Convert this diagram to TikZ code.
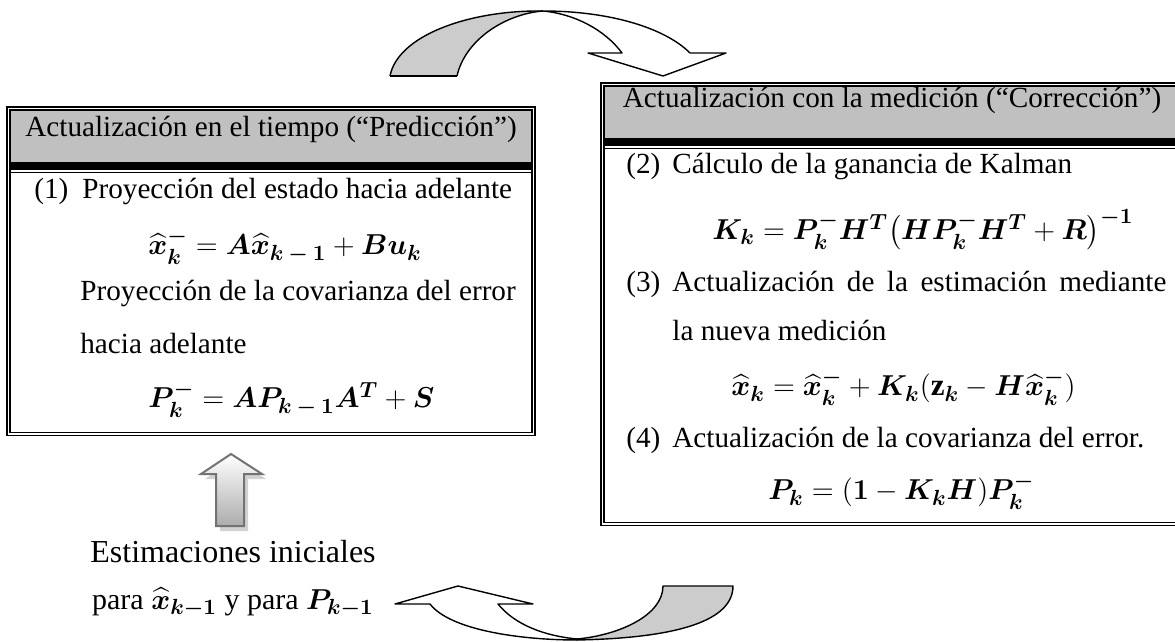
\documentclass[tikz,border=0pt]{standalone}
\usepackage{fontspec}
\setmainfont{Liberation Serif}
\usepackage{amsmath}
\usepackage{bm}
\usetikzlibrary{positioning}

\definecolor{headgray}{HTML}{C0C0C0}
\definecolor{backgray}{HTML}{CCCCCC}

% subscript k-1 with the wide spacing of the original
\newcommand{\kmo}{\bm{k}\mskip4mu\bm{-}\mskip4mu\bm{1}}

\tikzset{
  boxframe/.style={draw, line width=0.6pt, double, double distance=0.9pt},
  headtxt/.style={inner sep=0pt, execute at begin node=\strut},
  txtline/.style={anchor=west, inner sep=0pt, execute at begin node=\strut},
  eqline/.style={txtline, font=\fontsize{15.5}{18}\selectfont},
  ribbon/.style={draw, line width=0.7pt, line join=round},
}

\begin{document}
\begin{tikzpicture}[x=0.5pt, y=-0.5pt, font=\fontsize{14.6}{17}\selectfont]
  \useasboundingbox (0,0) rectangle (1175,642);
  \clip (0,0) rectangle (1175,642);

  % Time update box (left)
  \fill[headgray] (8.5,108.5) rectangle (533.5,162);
  \fill (8.5,162) rectangle (533.5,170);
  \draw[line width=0.75pt] (8.5,172.5) -- (533.5,172.5);
  \draw[boxframe] (8.5,108.5) rectangle (533.5,434);

  \node[headtxt] (predtitle) at (271,130) {Actualización en el tiempo (“Predicción”)};
  \node[txtline] (step1) at (34,192) {\makebox[24pt][l]{(1)}Proyección del estado hacia adelante};
  \node[eqline] (eqx) at (148,247) {$\bm{\widehat{x}_k^-} = \bm{A\widehat{x}}_{\kmo} + \bm{Bu_k}$};
  \node[txtline] (cov1) at (80,294) {Proyección de la covarianza del error};
  \node[txtline] (cov2) at (80,347) {hacia adelante};
  \node[eqline] (eqp) at (148,400) {$\bm{P_k^-} = \bm{AP}_{\kmo}\bm{A^T} + \bm{S}$};

  % Measurement update box (right)
  \fill[headgray] (602.5,84.5) rectangle (1190,138);
  \fill (602.5,138) rectangle (1190,146);
  \draw[line width=0.75pt] (602.5,148.5) -- (1190,148.5);
  \draw[boxframe] (602.5,84.5) rectangle (1190,524);

  \node[headtxt] (corrtitle) at (892,101) {Actualización con la medición (“Corrección”)};
  \node[txtline] (step2) at (626,167) {\makebox[23pt][l]{(2)}Cálculo de la ganancia de Kalman};
  \node[eqline] (eqk) at (712,230) {$\bm{K_k} = \bm{P_k^-H^T}\bigl(\bm{HP_k^-H^T} + \bm{R}\bigr)^{\bm{-1}}$};
  \node[txtline] (step3) at (626,285) {\makebox[23pt][l]{(3)}\makebox[247pt][s]{Actualización de la estimación mediante}};
  \node[txtline] (step3b) at (672,334) {la nueva medición};
  \node[eqline] (eqxk) at (731,388) {$\bm{\widehat{x}_k} = \bm{\widehat{x}_k^-} + \bm{K_k}(\mathbf{z}_{\bm{k}} - \bm{H\widehat{x}_k^-})$};
  \node[txtline] (step4) at (626,441) {\makebox[23pt][l]{(4)}Actualización de la covarianza del error.};
  \node[eqline] (eqpk) at (768,492) {$\bm{P_k} = (\bm{1} - \bm{K_kH})\bm{P_k^-}$};

  % Initial estimates
  \node[headtxt, font=\fontsize{16}{19}\selectfont] (init1) at (233,555) {Estimaciones iniciales};
  \node[headtxt, font=\fontsize{15}{18}\selectfont] (init2) at (233,602) {para $\bm{\widehat{x}_{k-1}}$ y para $\bm{P_{k-1}}$};

  % Up arrow
  \fill[gray!35] (235,458) -- (266,479) -- (248,479) -- (248,531) -- (220,531) -- (220,479) -- (205,479) -- cycle;
  \shade[top color=white, bottom color=gray!65, draw=gray!90!black, line width=1pt]
    (231,454) -- (262,474) -- (244,474) -- (244,526) -- (216,526) -- (216,474) -- (201,474) -- cycle;

  % Curved arrow on top
  \fill[backgray] (390,76) .. controls (398,35) and (470,10) .. (543,11)
    .. controls (505,14) and (465,40) .. (457,76) -- cycle;
  \draw[ribbon] (390,76) .. controls (398,35) and (470,10) .. (543,11);
  \draw[ribbon] (457,76) .. controls (465,40) and (505,14) .. (543,11);
  \draw[ribbon] (390,76) -- (457,76);
  \draw[ribbon, fill=white] (543,11) .. controls (610,11) and (665,28) .. (690,53)
    -- (726,53) -- (663,76) -- (588,53) -- (622,53)
    .. controls (605,30) and (575,14) .. (543,11) -- cycle;

  % Curved arrow at the bottom
  \draw[ribbon, fill=backgray] (577,640) .. controls (680,638) and (733,620) .. (733,586)
    -- (663,586) .. controls (663,615) and (620,635) .. (577,639) -- cycle;
  \draw[ribbon, fill=white] (577,640) .. controls (520,640) and (450,630) .. (430,604)
    -- (395,604) -- (458,586) -- (533,604) -- (498,604)
    .. controls (515,625) and (545,636) .. (577,639) -- cycle;
\end{tikzpicture}
\end{document}
